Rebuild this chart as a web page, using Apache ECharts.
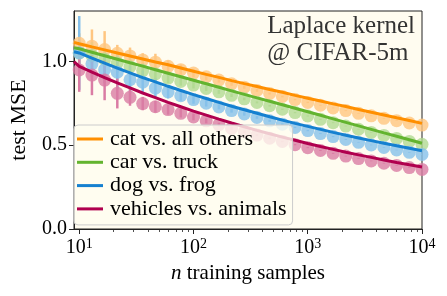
<!DOCTYPE html>
<html><head><meta charset="utf-8">
<script src="https://cdn.jsdelivr.net/npm/echarts@6/dist/echarts.min.js"></script>
<style>html,body{margin:0;padding:0;background:#fff}#c{width:447px;height:296px}</style>
</head><body><div id="c"></div>
<script>
// training-set sizes (log-spaced)
const nValues = [10, 12.92, 16.68, 21.54, 27.83, 35.94, 46.42, 59.95, 77.43, 100,
  129.2, 166.8, 215.4, 278.3, 359.4, 464.2, 599.5, 774.3, 1000, 1292,
  1668, 2154, 2783, 3594, 4642, 5995, 7743, 10000];
const fitN = [9].concat(nValues);

const seriesNames = ['cat vs. all others', 'car vs. truck', 'dog vs. frog', 'vehicles vs. animals'];
const xMajorTicks = [10, 100, 1000, 10000];
const yTicks = [0, 0.5, 1.0];

// measured test MSE (dots)
const catDots = [1.107, 1.090, 1.070, 1.048, 1.032, 1.008, 0.995, 0.970, 0.950, 0.930, 0.908, 0.888, 0.866, 0.846, 0.826, 0.808, 0.790, 0.772, 0.755, 0.738, 0.722, 0.706, 0.690, 0.675, 0.660, 0.646, 0.632, 0.620];
const carDots = [1.050, 1.035, 1.012, 0.990, 0.968, 0.945, 0.925, 0.900, 0.880, 0.858, 0.838, 0.818, 0.797, 0.776, 0.755, 0.735, 0.714, 0.694, 0.674, 0.654, 0.634, 0.614, 0.595, 0.576, 0.558, 0.540, 0.522, 0.505];
const dogDots = [1.050, 0.985, 0.950, 0.935, 0.890, 0.875, 0.840, 0.818, 0.795, 0.772, 0.750, 0.728, 0.706, 0.686, 0.665, 0.645, 0.625, 0.606, 0.587, 0.569, 0.551, 0.534, 0.517, 0.501, 0.486, 0.471, 0.457, 0.445];
const vehDots = [0.948, 0.918, 0.888, 0.809, 0.785, 0.748, 0.729, 0.712, 0.690, 0.668, 0.645, 0.622, 0.600, 0.580, 0.560, 0.541, 0.522, 0.503, 0.485, 0.468, 0.451, 0.435, 0.420, 0.406, 0.392, 0.379, 0.366, 0.355];

// error-bar half widths
const catErr = [0.06, 0.10, 0.11, 0.05, 0.05, 0.04, 0.05, 0.035, 0.03, 0.025, 0.02, 0.015, 0.012, 0.01, 0.008, 0.006, 0.005, 0.004, 0.004, 0.003, 0.003, 0.003, 0.002, 0.002, 0.002, 0.002, 0.002, 0.002];
const carErr = [0.07, 0.08, 0.07, 0.06, 0.05, 0.045, 0.04, 0.03, 0.025, 0.02, 0.015, 0.012, 0.01, 0.008, 0.006, 0.005, 0.004, 0.004, 0.003, 0.003, 0.003, 0.002, 0.002, 0.002, 0.002, 0.002, 0.002, 0.002];
const dogErr = [0.22, 0.08, 0.08, 0.10, 0.08, 0.07, 0.06, 0.04, 0.03, 0.025, 0.02, 0.015, 0.012, 0.01, 0.008, 0.006, 0.005, 0.004, 0.004, 0.003, 0.003, 0.003, 0.002, 0.002, 0.002, 0.002, 0.002, 0.002];
const vehErr = [0.13, 0.12, 0.12, 0.09, 0.05, 0.04, 0.035, 0.03, 0.025, 0.02, 0.015, 0.012, 0.01, 0.008, 0.006, 0.005, 0.004, 0.004, 0.003, 0.003, 0.003, 0.002, 0.002, 0.002, 0.002, 0.002, 0.002, 0.002];

// fitted curves (values at fitN)
const catFit = [1.113, 1.105, 1.086, 1.068, 1.050, 1.032, 1.014, 0.996, 0.979, 0.960, 0.941, 0.922, 0.904, 0.885, 0.867, 0.850, 0.832, 0.815, 0.797, 0.780, 0.763, 0.746, 0.730, 0.713, 0.696, 0.680, 0.663, 0.647, 0.630];
const carFit = [1.081, 1.075, 1.054, 1.033, 1.012, 0.991, 0.971, 0.950, 0.929, 0.908, 0.887, 0.866, 0.845, 0.824, 0.803, 0.782, 0.762, 0.741, 0.720, 0.699, 0.678, 0.657, 0.636, 0.615, 0.594, 0.573, 0.553, 0.532, 0.511];
const dogFit = [1.057, 1.050, 1.019, 0.989, 0.959, 0.931, 0.903, 0.877, 0.851, 0.826, 0.801, 0.778, 0.755, 0.732, 0.711, 0.690, 0.669, 0.649, 0.630, 0.612, 0.594, 0.576, 0.559, 0.543, 0.527, 0.511, 0.496, 0.481, 0.467];
const vehFit = [0.998, 0.970, 0.936, 0.903, 0.871, 0.841, 0.811, 0.783, 0.755, 0.729, 0.703, 0.679, 0.655, 0.632, 0.610, 0.588, 0.568, 0.548, 0.529, 0.510, 0.492, 0.475, 0.458, 0.442, 0.427, 0.412, 0.397, 0.383, 0.370];

const lineColors = ['#ff8f00', '#63b42f', '#1580d0', '#b0004e'];
const dotColors = ['#ffc680', '#b2da92', '#86c0ea', '#da7ca4'];
const allDots = [catDots, carDots, dogDots, vehDots];
const allErr = [catErr, carErr, dogErr, vehErr];
const allFit = [catFit, carFit, dogFit, vehFit];
const FONT = 'Liberation Serif';
const xMinorTicks = [];
[10, 100, 1000].forEach(function (d) { for (let k = 2; k <= 9; k++) xMinorTicks.push(d * k); });

const series = [];
allErr.forEach(function (err, s) {
  series.push({
    type: 'custom', z: 2, silent: true, clip: true,
    data: nValues.map(function (n, i) { return [n, allDots[s][i] - err[i], allDots[s][i] + err[i]]; }),
    renderItem: function (params, api) {
      const p1 = api.coord([api.value(0), api.value(1)]);
      const p2 = api.coord([api.value(0), api.value(2)]);
      return { type: 'line', shape: { x1: p1[0], y1: p1[1], x2: p2[0], y2: p2[1] },
        style: { stroke: dotColors[s], lineWidth: 2.5 } };
    }
  });
});
allDots.forEach(function (d, s) {
  series.push({
    type: 'scatter', z: 3, silent: true, symbolSize: 13,
    itemStyle: { color: dotColors[s] },
    data: nValues.map(function (n, i) { return [n, d[i]]; })
  });
});
allFit.forEach(function (f, s) {
  series.push({
    name: seriesNames[s], type: 'line', z: 4, silent: true, showSymbol: false, symbol: 'none',
    lineStyle: { color: lineColors[s], width: 3 }, itemStyle: { color: lineColors[s] },
    data: fitN.map(function (n, i) { return [n, f[i]]; })
  });
});

const chart = echarts.init(document.getElementById('c'), null, { renderer: 'canvas' });
chart.setOption({
  animation: false,
  backgroundColor: '#ffffff',
  textStyle: { fontFamily: FONT },
  graphic: [{
    type: 'text', right: 32, top: 13, z: 20,
    style: { text: 'Laplace kernel\n@ CIFAR-5m', fontFamily: FONT, fontSize: 25, fill: '#333',
      lineHeight: 27, align: 'right' }
  }],
  legend: {
    orient: 'vertical', left: 74, top: 125, padding: [3, 6, 5, 3], itemGap: 1.3,
    itemWidth: 26, itemHeight: 3, icon: 'rect',
    backgroundColor: 'rgba(255,252,240,0.8)', borderColor: '#cccccc', borderWidth: 1, borderRadius: 4,
    textStyle: { fontFamily: FONT, fontSize: 22, color: '#000', lineHeight: 22, padding: [0, 0, 0, 2] },
    data: seriesNames.map(function (n, s) { return { name: n, itemStyle: { color: lineColors[s] } }; }),
    z: 10
  },
  grid: { left: 70, right: 25, top: 11, bottom: 67, show: true, backgroundColor: '#fffcf0', borderColor: '#222', borderWidth: 1 },
  xAxis: [{
    type: 'log', logBase: 10, min: 9, max: 10000, position: 'bottom',
    name: '{i|n} training samples', nameLocation: 'middle', nameGap: 33,
    nameTextStyle: { fontFamily: FONT, fontSize: 21, color: '#000', align: 'center',
      rich: { i: { fontFamily: FONT, fontSize: 21, fontStyle: 'italic', color: '#000' } } },
    axisLine: { show: true, lineStyle: { color: '#222', width: 1 } },
    axisTick: { show: true, length: 5, customValues: xMajorTicks, lineStyle: { color: '#222', width: 1 } },
    axisLabel: {
      customValues: xMajorTicks, margin: 8, color: '#000',
      formatter: function (v) { return '{b|10}{s|' + Math.round(Math.log10(v)) + '}'; },
      rich: { b: { fontFamily: FONT, fontSize: 20, lineHeight: 22, color: '#000' },
              s: { fontFamily: FONT, fontSize: 14, verticalAlign: 'top', lineHeight: 14, color: '#000' } }
    },
    splitLine: { show: false }
  }, {
    type: 'log', logBase: 10, min: 9, max: 10000, position: 'bottom',
    axisLine: { show: false },
    axisTick: { show: true, length: 3, customValues: xMinorTicks, lineStyle: { color: '#222', width: 0.8 } },
    axisLabel: { show: false }, splitLine: { show: false }
  }],
  yAxis: {
    type: 'value', min: 0, max: 1.3,
    name: 'test MSE', nameLocation: 'middle', nameGap: 44,
    nameTextStyle: { fontFamily: FONT, fontSize: 22, color: '#000' },
    axisLine: { show: true, lineStyle: { color: '#222', width: 1 } },
    axisTick: { show: true, length: 5, customValues: yTicks, lineStyle: { color: '#222' } },
    axisLabel: { customValues: yTicks, margin: 7, fontFamily: FONT, fontSize: 20, color: '#000',
      formatter: function (v) { return v.toFixed(1); } },
    splitLine: { show: false }
  },
  series: series
});
</script></body></html>
